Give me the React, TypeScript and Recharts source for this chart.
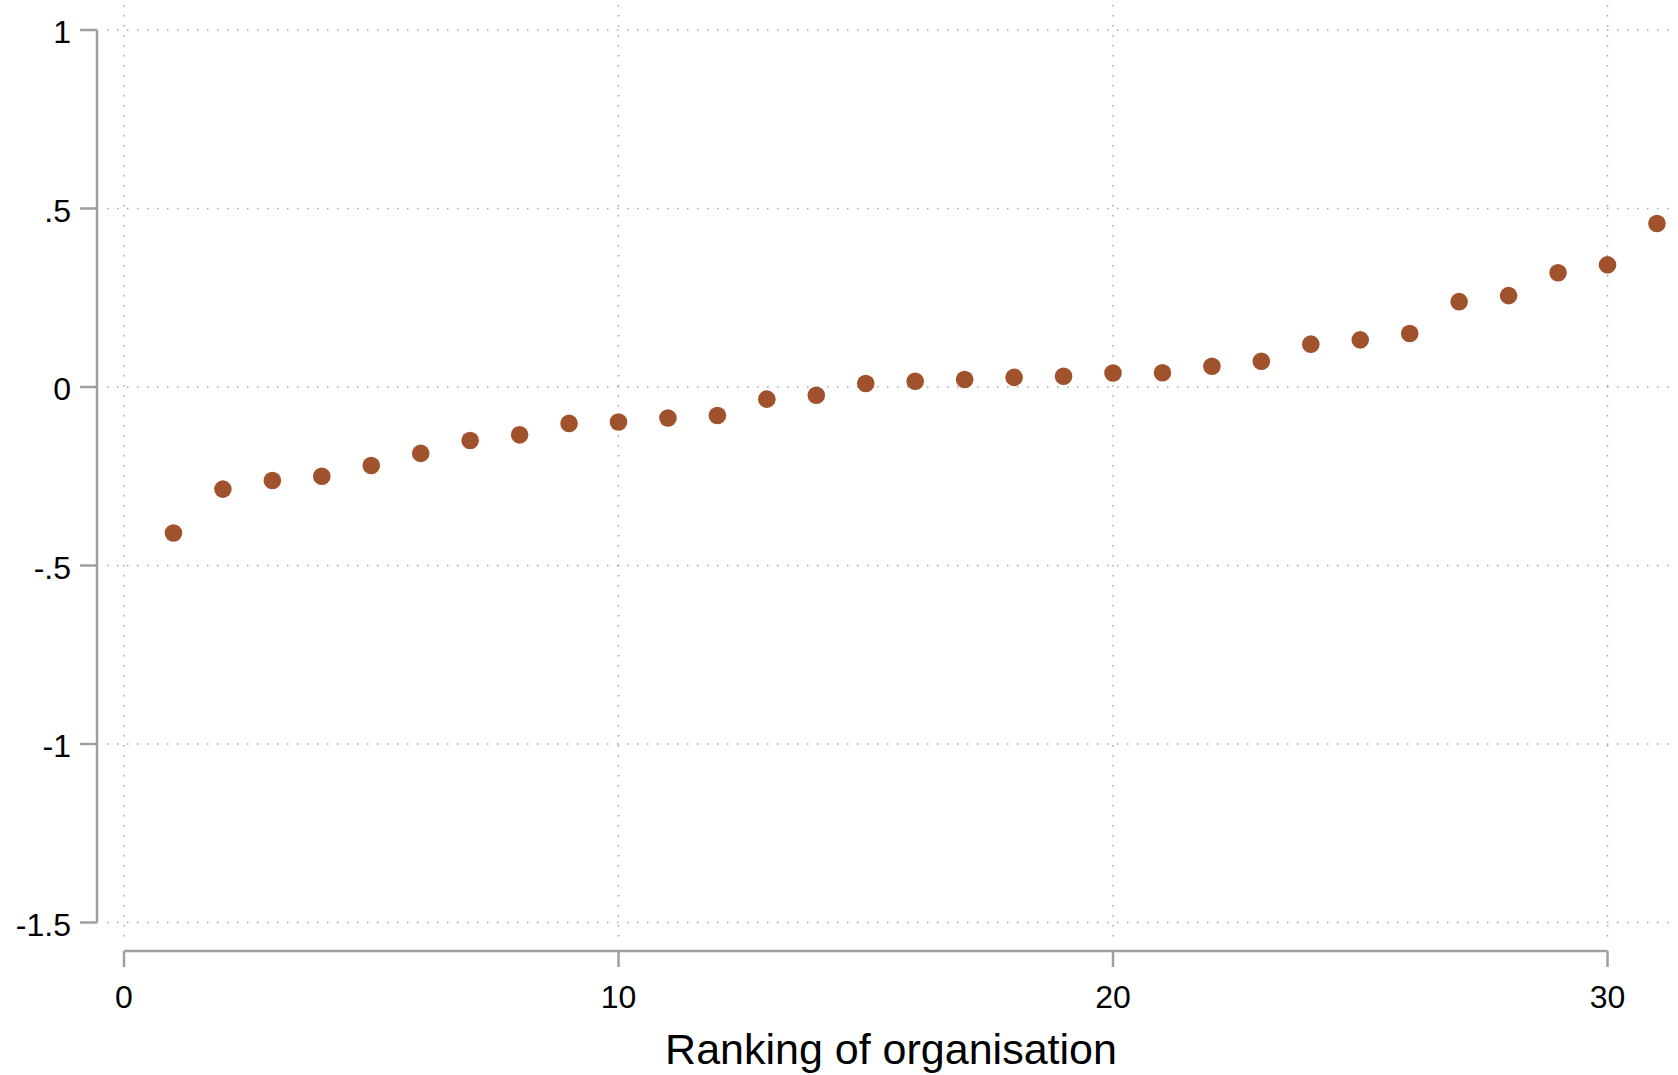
import React from 'react';
import {
  ScatterChart,
  Scatter,
  XAxis,
  YAxis,
  CartesianGrid,
  ReferenceLine,
  Label,
} from 'recharts';

// ---- Data ----
const RANKS: number[] = [
  1, 2, 3, 4, 5, 6, 7, 8, 9, 10, 11, 12, 13, 14, 15, 16, 17, 18, 19, 20, 21, 22,
  23, 24, 25, 26, 27, 28, 29, 30, 31,
];
const VALUES: number[] = [
  -0.409, -0.286, -0.262, -0.25, -0.22, -0.186, -0.15, -0.134, -0.102, -0.098,
  -0.087, -0.08, -0.034, -0.023, 0.01, 0.016, 0.021, 0.027, 0.03, 0.039, 0.04,
  0.058, 0.072, 0.12, 0.132, 0.15, 0.239, 0.256, 0.32, 0.342, 0.458,
];
const X_TICKS: number[] = [0, 10, 20, 30];
const X_TICK_LABELS: string[] = ['0', '10', '20', '30'];
const Y_TICKS: number[] = [-1.5, -1, -0.5, 0, 0.5, 1];
const Y_TICK_LABELS: string[] = ['-1.5', '-1', '-.5', '0', '.5', '1'];
const X_TITLE = 'Ranking of organisation';

// ---- Layout / style ----
const X_DOMAIN: [number, number] = [-0.344, 31.365];
const Y_DOMAIN: [number, number] = [-1.549, 1.07];
const Y_AXIS_LINE_X = -0.546; // where the (offset) y-axis line sits
const X_AXIS_LINE_Y = -1.58; // where the (offset) x-axis line sits
const AXIS_COLOR = '#9f9f9f';
const GRID_COLOR = '#a3a3a3';
const DOT_COLOR = '#a0522d';
const FONT = '"Liberation Sans", Arial, Helvetica, sans-serif';

const data = RANKS.map((r, i) => ({ rank: r, value: VALUES[i] }));

const YTick = (props: any) => {
  const { x, y, payload } = props;
  const idx = Y_TICKS.indexOf(payload.value);
  const label = idx >= 0 ? Y_TICK_LABELS[idx] : String(payload.value);
  return (
    <g>
      <line x1={x - 10} x2={x - 27} y1={y} y2={y} stroke={AXIS_COLOR} strokeWidth={2.5} />
      <text
        x={x - 36}
        y={y}
        dy="0.42em"
        textAnchor="end"
        fontSize={32}
        fontFamily={FONT}
        fill="#000"
      >
        {label}
      </text>
    </g>
  );
};

const XTick = (props: any) => {
  const { x, y, payload } = props;
  const idx = X_TICKS.indexOf(payload.value);
  const label = idx >= 0 ? X_TICK_LABELS[idx] : String(payload.value);
  return (
    <g>
      <line x1={x} x2={x} y1={y + 11} y2={y + 27} stroke={AXIS_COLOR} strokeWidth={2.5} />
      <text
        x={x}
        y={y + 45}
        dy="0.71em"
        textAnchor="middle"
        fontSize={32}
        fontFamily={FONT}
        fill="#000"
      >
        {label}
      </text>
    </g>
  );
};

const Dot = (props: any) => {
  const { cx, cy } = props;
  if (cx == null || cy == null) return null;
  return <circle cx={cx} cy={cy} r={8.8} fill={DOT_COLOR} />;
};

export default function App() {
  return (
    <div style={{ position: 'absolute', left: 0, top: 0, width: 1678, height: 1075, background: '#fff' }}>
      <ScatterChart
        width={1678}
        height={1075}
        margin={{ top: 5, right: 3, bottom: 0, left: 0 }}
        style={{ fontFamily: FONT }}
      >
        <CartesianGrid
          stroke={GRID_COLOR}
          strokeWidth={1.5}
          strokeDasharray="1.5 8.5"
          syncWithTicks
        />
        <XAxis
          type="number"
          dataKey="rank"
          domain={X_DOMAIN}
          allowDataOverflow
          ticks={X_TICKS}
          interval={0}
          axisLine={false}
          tickLine={false}
          tickSize={0}
          tickMargin={0}
          height={135}
          tick={<XTick />}
        >
          <Label
            value={X_TITLE}
            position="insideBottom"
            offset={11}
            fontSize={43}
            fontFamily={FONT}
            fill="#000"
          />
        </XAxis>
        <YAxis
          type="number"
          dataKey="value"
          domain={Y_DOMAIN}
          allowDataOverflow
          ticks={Y_TICKS}
          interval={0}
          axisLine={false}
          tickLine={false}
          tickSize={0}
          tickMargin={0}
          width={107}
          tick={<YTick />}
        />
        <ReferenceLine
          segment={[
            { x: Y_AXIS_LINE_X, y: Y_TICKS[Y_TICKS.length - 1] },
            { x: Y_AXIS_LINE_X, y: Y_TICKS[0] },
          ]}
          stroke={AXIS_COLOR}
          strokeWidth={2.5}
          ifOverflow="visible"
        />
        <ReferenceLine
          segment={[
            { x: X_TICKS[0], y: X_AXIS_LINE_Y },
            { x: X_TICKS[X_TICKS.length - 1], y: X_AXIS_LINE_Y },
          ]}
          stroke={AXIS_COLOR}
          strokeWidth={2.5}
          ifOverflow="visible"
        />
        <Scatter data={data} fill={DOT_COLOR} shape={<Dot />} isAnimationActive={false} />
      </ScatterChart>
    </div>
  );
}
